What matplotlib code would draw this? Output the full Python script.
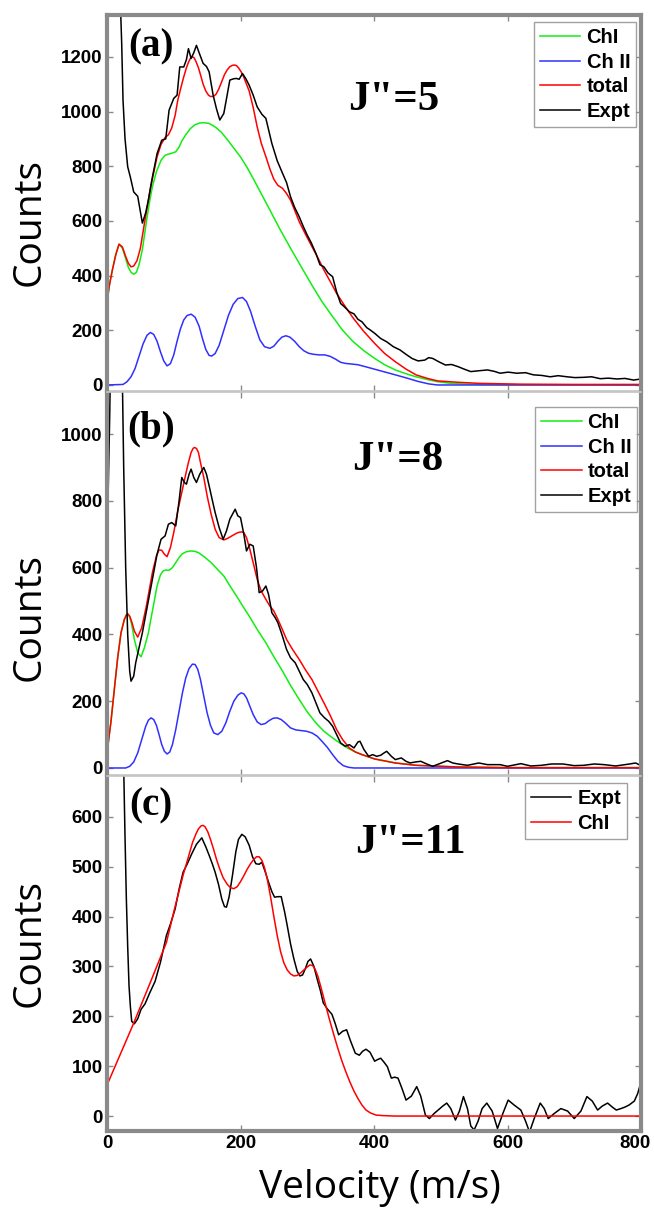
import numpy as np
import matplotlib
matplotlib.use("Agg")
import matplotlib.pyplot as plt
import matplotlib.transforms as mtransforms

plt.rcParams['font.family'] = ['Liberation Sans', 'DejaVu Sans']

# ── Panel (a): J''=5 ─────────────────────────────────────────────────────────
va_tot = [0, 4, 8, 13, 18, 23, 28, 32, 36, 40, 45, 50, 56, 65, 75, 81, 87, 92, 97, 102,
          106, 111, 115, 119, 122, 125, 127, 130, 133, 137, 140, 144, 148, 152, 155, 159,
          163, 167, 172, 176, 180, 184, 188, 191, 194, 197, 201, 205, 209, 213, 219, 225,
          231, 238, 244, 250, 256, 263, 269, 275, 281, 288, 297, 307, 316, 325, 335, 344,
          356, 369, 385, 401, 416, 432, 448, 463, 480, 495, 525, 557, 620, 700, 800]
ca_tot = [305, 370, 420, 475, 515, 505, 470, 445, 432, 435, 455, 500, 590, 720, 834, 880,
          905, 915, 940, 985, 1041, 1090, 1127, 1160, 1180, 1195, 1200, 1198, 1185, 1160,
          1135, 1100, 1075, 1060, 1055, 1055, 1062, 1080, 1110, 1135, 1152, 1164, 1169,
          1170, 1168, 1160, 1145, 1125, 1100, 1075, 1015, 944, 885, 835, 790, 752, 730,
          719, 700, 676, 640, 597, 553, 506, 465, 420, 376, 335, 290, 244, 195, 152, 115,
          85, 58, 37, 24, 15, 10, 6, 3, 2, 2]

va_ch1 = [0, 4, 8, 13, 18, 23, 28, 32, 36, 40, 44, 48, 53, 58, 63, 68, 74, 81, 87, 93, 98,
          103, 108, 112, 118, 125, 132, 139, 145, 152, 158, 164, 171, 181, 190, 200, 210,
          219, 231, 244, 259, 275, 291, 307, 322, 338, 353, 369, 385, 401, 416, 432, 448,
          463, 480, 495, 512, 530, 560, 600, 800]
ca_ch1 = [305, 370, 420, 475, 515, 500, 462, 430, 412, 405, 412, 440, 495, 580, 660, 725,
          780, 822, 840, 845, 848, 853, 870, 892, 915, 938, 952, 958, 959, 957, 950, 940,
          925, 895, 866, 834, 795, 755, 700, 640, 570, 500, 432, 365, 305, 250, 200, 158,
          125, 97, 74, 55, 41, 30, 20, 12, 7, 4, 2, 1, 0]

va_ch2 = [0, 24, 30, 36, 42, 48, 54, 60, 65, 70, 75, 80, 85, 90, 95, 100, 105, 110, 115,
          120, 126, 132, 138, 143, 148, 153, 157, 162, 168, 175, 182, 189, 196, 203, 209,
          215, 222, 229, 236, 244, 250, 256, 262, 268, 274, 281, 288, 295, 302, 310, 318,
          326, 334, 342, 350, 357, 365, 376, 390, 405, 420, 435, 451, 466, 482, 495, 800]
ca_ch2 = [0, 2, 12, 30, 60, 105, 150, 182, 192, 185, 160, 122, 88, 70, 78, 110, 160, 205,
          238, 254, 259, 248, 215, 170, 130, 108, 106, 115, 145, 200, 255, 295, 316, 320,
          305, 270, 215, 165, 140, 134, 142, 160, 175, 180, 175, 160, 140, 125, 116, 112,
          110, 110, 105, 95, 83, 79, 77, 74, 65, 55, 45, 35, 24, 13, 4, 0, 0]

va_exp = [20, 22, 24, 27, 31, 35, 40, 46, 53, 58, 62, 68, 75, 82, 88, 93, 100, 105, 109,
          115, 119, 122, 126, 130, 134, 138, 144, 149, 153, 159, 164, 169, 175, 180, 184,
          190, 194, 198, 203, 208, 213, 219, 225, 232, 238, 247, 255, 263, 269, 275, 281,
          288, 294, 300, 306, 313, 319, 325, 331, 338, 344, 350, 356, 363, 370, 376, 382,
          389, 395, 401, 410, 419, 429, 439, 448, 457, 466, 476, 482, 488, 497, 507, 516,
          526, 535, 545, 557, 570, 580, 589, 601, 614, 627, 639, 651, 664, 676, 689, 701,
          714, 726, 739, 751, 764, 776, 789, 800]
ca_exp = [1400, 1250, 1041, 900, 798, 760, 706, 690, 592, 630, 676, 760, 846, 895, 900,
          1005, 1048, 1060, 1163, 1163, 1190, 1230, 1194, 1215, 1242, 1215, 1176, 1165,
          1145, 1060, 1010, 969, 993, 1060, 1115, 1120, 1121, 1118, 1139, 1120, 1096, 1060,
          1017, 990, 975, 883, 820, 774, 740, 688, 650, 615, 580, 548, 520, 481, 440, 432,
          410, 396, 340, 298, 285, 268, 260, 240, 231, 210, 200, 189, 170, 158, 140, 128,
          112, 97, 88, 91, 100, 97, 85, 73, 75, 67, 58, 49, 52, 55, 50, 43, 47, 43, 45, 37,
          35, 30, 34, 30, 27, 28, 30, 23, 25, 22, 24, 18, 22]

# ── Panel (b): J''=8 ─────────────────────────────────────────────────────────
vb_tot = [0, 6, 12, 16, 21, 26, 29, 31, 34, 37, 41, 46, 52, 59, 68, 74, 78, 82, 86, 90, 95,
          100, 106, 112, 118, 122, 126, 129, 131, 134, 137, 140, 145, 150, 156, 162, 168,
          175, 181, 187, 194, 198, 202, 205, 209, 214, 219, 225, 231, 238, 244, 250, 256,
          262, 269, 278, 288, 297, 307, 316, 325, 335, 344, 353, 363, 372, 382, 401, 432,
          463, 526, 600, 800]
cb_tot = [45, 140, 255, 330, 405, 445, 458, 462, 455, 438, 410, 392, 420, 485, 585, 635,
          653, 652, 640, 633, 660, 705, 770, 825, 880, 915, 945, 957, 960, 957, 945, 915,
          870, 815, 760, 715, 690, 683, 688, 695, 703, 706, 707, 705, 690, 655, 615, 565,
          530, 505, 485, 470, 445, 418, 385, 355, 325, 295, 265, 230, 195, 155, 115, 85,
          60, 48, 40, 27, 15, 8, 3, 1, 1]

vb_ch1 = [0, 6, 12, 16, 21, 26, 29, 31, 34, 37, 41, 46, 51, 56, 62, 68, 75, 80, 84, 88, 93,
          98, 103, 108, 112, 118, 125, 131, 137, 146, 156, 165, 175, 184, 194, 203, 213,
          225, 238, 250, 263, 275, 288, 300, 313, 325, 338, 350, 360, 372, 382, 401, 432,
          463, 526, 600, 800]
cb_ch1 = [45, 140, 255, 330, 405, 445, 458, 460, 452, 430, 385, 345, 333, 360, 405, 470,
          545, 578, 590, 593, 592, 600, 615, 630, 640, 647, 650, 649, 645, 632, 615, 596,
          575, 546, 515, 486, 455, 415, 375, 333, 290, 247, 205, 168, 135, 110, 90, 73,
          60, 48, 40, 27, 15, 8, 3, 1, 1]

vb_ch2 = [0, 28, 34, 40, 46, 52, 58, 62, 66, 70, 74, 78, 82, 86, 90, 94, 98, 103, 108,
          113, 118, 123, 128, 132, 136, 140, 145, 150, 155, 160, 166, 172, 178, 184, 190,
          196, 201, 205, 209, 214, 219, 225, 231, 237, 243, 249, 255, 261, 267, 275, 283,
          291, 299, 307, 315, 322, 330, 338, 346, 354, 362, 370, 800]
cb_ch2 = [0, 0, 5, 18, 45, 85, 125, 143, 150, 145, 128, 100, 70, 50, 42, 48, 70, 115, 170,
          225, 270, 298, 311, 310, 295, 265, 215, 165, 128, 105, 100, 110, 135, 170, 200,
          218, 225, 222, 210, 185, 160, 138, 130, 133, 142, 149, 150, 145, 135, 120, 114,
          112, 110, 105, 95, 80, 62, 40, 20, 7, 2, 0, 0]

vb_exp = [0, 2, 4, 6, 22, 25, 28, 31, 34, 36, 40, 43, 48, 53, 60, 68, 75, 81, 87, 92, 97,
          103, 108, 112, 116, 119, 123, 126, 130, 134, 139, 145, 149, 153, 158, 162, 168,
          174, 179, 184, 188, 192, 196, 200, 205, 209, 214, 219, 224, 228, 233, 238, 242,
          247, 252, 256, 262, 269, 275, 282, 288, 294, 300, 307, 313, 319, 326, 332, 338,
          344, 350, 357, 363, 370, 376, 379, 385, 392, 398, 404, 410, 415, 419, 426, 432,
          437, 441, 448, 454, 462, 470, 479, 488, 497, 510, 518, 526, 540, 557, 570, 589,
          600, 620, 635, 651, 666, 683, 700, 714, 730, 745, 762, 783, 792, 800]
cb_exp = [670, 850, 1050, 1300, 1300, 900, 600, 400, 290, 260, 275, 315, 360, 405, 480,
          565, 640, 685, 695, 730, 735, 725, 800, 870, 855, 850, 880, 895, 870, 855, 880,
          900, 880, 845, 800, 765, 720, 685, 710, 745, 760, 775, 755, 750, 700, 650, 670,
          665, 600, 525, 530, 545, 520, 465, 450, 435, 400, 355, 330, 315, 290, 265, 250,
          225, 195, 165, 150, 140, 125, 100, 75, 65, 70, 60, 78, 80, 55, 35, 40, 35, 38,
          45, 50, 35, 25, 28, 30, 20, 15, 18, 20, 12, 5, 12, 22, 15, 12, 8, 15, 10, 10, 5,
          13, 6, 8, 12, 12, 7, 8, 12, 10, 6, 12, 15, 7]

# ── Panel (c): J''=11 ────────────────────────────────────────────────────────
vc_ch1 = [0, 38, 64, 89, 102, 114, 122, 128, 133, 137, 141, 144, 147, 151, 155, 159, 164,
          169, 174, 180, 185, 190, 195, 200, 205, 210, 215, 220, 224, 228, 232, 236, 240,
          245, 250, 255, 260, 265, 270, 275, 280, 285, 290, 295, 300, 304, 308, 312, 316,
          321, 327, 333, 340, 346, 352, 358, 364, 370, 376, 382, 388, 395, 403, 412, 430,
          500, 600, 700, 800]
cc_ch1 = [62, 180, 265, 348, 420, 483, 520, 548, 565, 576, 582, 583, 580, 570, 555, 538,
          515, 495, 478, 465, 458, 456, 460, 470, 482, 495, 506, 515, 520, 520, 513, 498,
          476, 440, 400, 362, 330, 307, 293, 285, 281, 282, 287, 293, 299, 303, 302, 294,
          280, 256, 225, 195, 162, 135, 110, 88, 68, 50, 35, 22, 12, 6, 2, 1, 0, 0, 0, 0, 0]

vc_exp = [25, 27, 29, 31, 33, 35, 37, 41, 46, 51, 57, 64, 72, 80, 89, 95, 102, 108, 114,
          120, 127, 134, 142, 148, 153, 158, 162, 167, 172, 176, 179, 183, 188, 193, 197,
          202, 207, 213, 218, 223, 228, 232, 237, 242, 247, 251, 256, 261, 266, 270, 275,
          280, 285, 289, 293, 297, 301, 305, 310, 315, 320, 324, 330, 337, 342, 347, 353,
          359, 365, 372, 378, 383, 388, 394, 401, 405, 410, 415, 420, 426, 431, 436, 442,
          448, 456, 464, 470, 477, 483, 490, 496, 503, 509, 515, 522, 528, 534, 540, 545,
          550, 556, 562, 569, 577, 585, 593, 601, 610, 620, 627, 633, 640, 649, 655, 661,
          670, 680, 690, 700, 710, 719, 727, 735, 742, 750, 757, 763, 770, 776, 782, 790,
          795, 798]
cc_exp = [700, 560, 435, 340, 261, 220, 190, 185, 195, 214, 225, 247, 270, 308, 362, 385,
          415, 455, 489, 505, 526, 545, 558, 540, 523, 505, 489, 465, 435, 420, 419, 440,
          483, 530, 555, 565, 560, 543, 520, 506, 505, 509, 490, 469, 450, 439, 440, 440,
          410, 382, 345, 315, 290, 281, 283, 295, 310, 315, 300, 274, 250, 227, 215, 204,
          185, 163, 170, 173, 150, 126, 122, 130, 134, 128, 110, 113, 116, 108, 99, 76, 78,
          76, 55, 32, 40, 59, 40, 2, -5, 5, 12, 20, 26, 15, -8, 10, 39, 15, -20, -28, -10,
          15, 26, 10, -25, 5, 32, 22, 12, -10, -32, -5, 26, 15, -5, 5, 15, 10, -5, 10, 39,
          30, 12, 20, 26, 18, 12, 15, 18, 22, 30, 45, 59]

GREEN, BLUE, RED = '#11ee11', '#3030ff', '#ff0000'
FRAME, INNER = '#8a8a8a', '#c4c4c4'
SERIF = ['Liberation Serif', 'DejaVu Serif']
SANS = ['Open Sans', 'DejaVu Sans']

W, H = 654, 1209
fig = plt.figure(figsize=(W / 100, H / 100), dpi=100)

def px_axes(top, bottom, left=107, right=641):
    return fig.add_axes([left / W, 1 - bottom / H, (right - left) / W, (bottom - top) / H])

ax_a = px_axes(15, 391)
ax_b = px_axes(392, 775)
ax_c = px_axes(776, 1131)

lw = 1.1
ax_a.plot(va_ch1, ca_ch1, color=GREEN, lw=lw, label='ChI')
ax_a.plot(va_ch2, ca_ch2, color=BLUE, lw=lw, label='Ch II')
ax_a.plot(va_tot, ca_tot, color=RED, lw=lw, label='total')
ax_a.plot(va_exp, ca_exp, color='black', lw=lw, label='Expt')

ax_b.plot(vb_ch1, cb_ch1, color=GREEN, lw=lw, label='ChI')
ax_b.plot(vb_ch2, cb_ch2, color=BLUE, lw=lw, label='Ch II')
ax_b.plot(vb_tot, cb_tot, color=RED, lw=lw, label='total')
ax_b.plot(vb_exp, cb_exp, color='black', lw=lw, label='Expt')

ax_c.plot(vc_exp, cc_exp, color='black', lw=lw, label='Expt')
ax_c.plot(vc_ch1, cc_ch1, color=RED, lw=lw, label='ChI')

ax_a.set_ylim(-22, 1353)
ax_b.set_ylim(-21, 1126)
ax_c.set_ylim(-30, 682)
ax_a.set_yticks(range(0, 1201, 200))
ax_b.set_yticks(range(0, 1001, 200))
ax_c.set_yticks(range(0, 601, 100))

panels = [(ax_a, '(a)', 'J"=5', 0.916, 0.537, 0.774, 0.981, 0.991),
          (ax_b, '(b)', 'J"=8', 0.904, 0.545, 0.822, 0.961, 0.993),
          (ax_c, '(c)', 'J"=11', 0.916, 0.568, 0.811, 0.980, 0.974)]
for ax, lab, jtxt, ly, jx, jy, legy, legx in panels:
    ax.set_xlim(0, 800)
    ax.set_xticks(range(0, 801, 200))
    ax.tick_params(direction='in', length=4, width=1, color=FRAME,
                   top=True, right=True, labelsize=13.5, pad=3)
    if ax is not ax_c:
        ax.tick_params(labelbottom=False)
    for side in ('left', 'right', 'top', 'bottom'):
        ax.spines[side].set_color(FRAME)
        ax.spines[side].set_linewidth(3.0)
    if ax is not ax_a:
        ax.spines['top'].set_color(INNER)
        ax.spines['top'].set_linewidth(1.2)
    if ax is not ax_c:
        ax.spines['bottom'].set_color(INNER)
        ax.spines['bottom'].set_linewidth(1.2)
    ax.text(0.082, ly, lab, transform=ax.transAxes, ha='center', va='center',
            fontsize=28, fontweight='bold', family=SERIF)
    ax.text(jx, jy, jtxt, transform=ax.transAxes, ha='center', va='center',
            fontsize=31, fontweight='bold', family=SERIF)
    leg = ax.legend(loc='upper right', bbox_to_anchor=(legx, legy), borderaxespad=0,
                    prop={'weight': 'bold', 'size': 14.5}, fancybox=False,
                    edgecolor=FRAME, handlelength=2.0, handletextpad=0.3,
                    labelspacing=0.28, borderpad=0.3)
    leg.get_frame().set_linewidth(1.0)

fig.canvas.draw()
for ax in (ax_a, ax_b, ax_c):
    for t in ax.get_yticklabels() + ax.get_xticklabels():
        t.set_fontweight('bold')
# the last x label sits right at the figure edge: nudge it inward a little
shift = mtransforms.ScaledTranslation(-6 / 100, 0, fig.dpi_scale_trans)
last = ax_c.get_xticklabels()[-1]
last.set_transform(last.get_transform() + shift)

for yc in (222, 617, 943):
    fig.text(30 / W, 1 - yc / H, 'Counts', rotation=90, ha='center', va='center',
             fontsize=28, family=SANS)
fig.text(380 / W, 1 - 1188 / H, 'Velocity (m/s)', ha='center', va='center',
         fontsize=28, family=SANS)

fig.savefig('out.png', dpi=100, facecolor='white')
